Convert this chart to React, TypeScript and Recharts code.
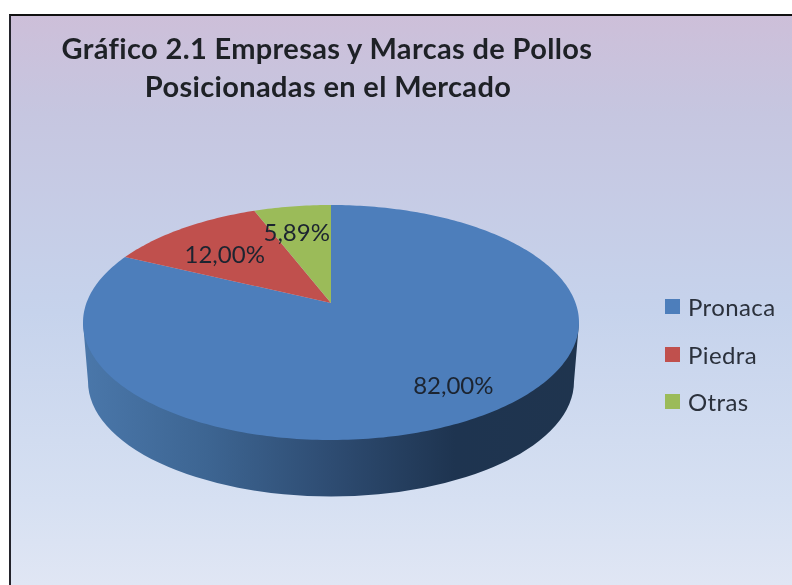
import React from 'react';
import { PieChart, Pie, Legend } from 'recharts';

const categories = ['Pronaca', 'Piedra', 'Otras'];
const shares = [82.0, 12.0, 5.89];
const colors = ['#4d7ebb', '#c0504d', '#9bbb59'];
const titleLines = ['Gráfico 2.1 Empresas y Marcas de Pollos', 'Posicionadas en el Mercado'];

const table = categories.map((name, i) => ({ name, value: shares[i], fill: colors[i] }));

// Perspective of the tilted disc
const W = 792, H = 585;
const CX = 331, CY = 303, RX = 248;
const RY = 117.5, DISC_SHIFT = 19.5; // ellipse centre sits below the projected pie centre
const C = DISC_SHIFT / RY, S = Math.sqrt(1 - C * C);
const DEPTH_CY = 59, BOTTOM_RX = 243, BOTTOM_RY = 115;
const LABEL_RADIUS = [0.75, 0.7, 0.7];
const LABEL_NUDGE = [[13, 0], [1, 5], [-6, -1]];

function project(cx: number, cy: number, rx: number, deg: number, r = 1) {
  const a = (deg * Math.PI) / 180;
  const u = r * Math.cos(a), v = r * Math.sin(a);
  const d = 1 + C * v;
  return { x: cx + (rx * u * S) / d, y: cy + DISC_SHIFT - (RY * (v + C)) / d };
}

function Slice(props: any) {
  const { cx, cy, outerRadius, startAngle, endAngle, fill } = props;
  const n = Math.max(8, Math.ceil(Math.abs(endAngle - startAngle) / 1));
  let d = `M${cx},${cy}`;
  for (let i = 0; i <= n; i++) {
    const p = project(cx, cy, outerRadius, startAngle + ((endAngle - startAngle) * i) / n);
    d += `L${p.x.toFixed(2)},${p.y.toFixed(2)}`;
  }
  d += 'Z';
  const lo = Math.min(startAngle, endAngle), hi = Math.max(startAngle, endAngle);
  const front = lo <= -90 && hi >= -90;
  const ey = cy + DISC_SHIFT;
  return (
    <g>
      {front && (
        <>
          <defs>
            <linearGradient id="wall" gradientUnits="userSpaceOnUse" x1={cx - outerRadius} x2={cx + outerRadius} y1="0" y2="0">
              <stop offset="0" stopColor="#4a77aa" />
              <stop offset="0.25" stopColor="#3d6592" />
              <stop offset="0.5" stopColor="#2e4c72" />
              <stop offset="0.75" stopColor="#1e3450" />
              <stop offset="1" stopColor="#1f344e" />
            </linearGradient>
          </defs>
          <path
            fill="url(#wall)"
            d={`M${cx - outerRadius},${ey}L${cx - BOTTOM_RX},${ey + DEPTH_CY}A${BOTTOM_RX},${BOTTOM_RY} 0 0 0 ${cx + BOTTOM_RX},${ey + DEPTH_CY}L${cx + outerRadius},${ey}Z`}
          />
        </>
      )}
      <path d={d} fill={fill} />
    </g>
  );
}

function SliceLabel(props: any) {
  const { cx, cy, outerRadius, midAngle, index, value } = props;
  const p = project(cx, cy, outerRadius, midAngle, LABEL_RADIUS[index]);
  return (
    <text
      x={p.x + LABEL_NUDGE[index][0]}
      y={p.y + LABEL_NUDGE[index][1]}
      textAnchor="middle"
      dominantBaseline="central"
      fontFamily="Lato"
      fontSize={24}
      fill="#1c2430"
    >
      {value.toFixed(2).replace('.', ',') + '%'}
    </text>
  );
}

function LegendBox(props: any) {
  return (
    <div style={{ fontFamily: 'Lato', fontSize: 24, letterSpacing: 0.4, color: '#2b313c' }}>
      {(props.payload || []).map((e: any) => (
        <div key={e.value} style={{ display: 'flex', alignItems: 'center', height: 47.5 }}>
          <span style={{ display: 'inline-block', width: 15, height: 15, background: e.color, marginRight: 8 }} />
          <span>{e.value}</span>
        </div>
      ))}
    </div>
  );
}

export default function App() {
  return (
    <div style={{ position: 'absolute', left: 0, top: 0, width: W, height: H, background: '#fff', overflow: 'hidden' }}>
      <div
        style={{
          position: 'absolute',
          left: 9,
          top: 14,
          width: W - 9,
          height: H - 14,
          boxSizing: 'border-box',
          borderLeft: '2px solid #23232b',
          borderTop: '2px solid #111',
          background: 'linear-gradient(180deg, #cdbfd9 0%, #c6c6e0 17%, #c6d3ec 52%, #d6e0f2 85%, #e0e6f4 100%)',
        }}
      />
      <div style={{ position: 'absolute', left: 0, top: 0, filter: 'blur(0.5px)' }}>
        <PieChart width={W} height={H} margin={{ top: 0, right: 0, bottom: 0, left: 0 }}>
          <text textAnchor="middle" fontFamily="Lato" fontWeight={700} fontSize={29} letterSpacing={0.35} fill="#1e2126">
            <tspan x={327} y={59}>{titleLines[0]}</tspan>
            <tspan x={328} y={97}>{titleLines[1]}</tspan>
          </text>
          <Pie
            data={table}
            dataKey="value"
            nameKey="name"
            cx={CX}
            cy={CY}
            innerRadius={0}
            outerRadius={RX}
            startAngle={90}
            endAngle={-270}
            stroke="none"
            shape={Slice}
            label={SliceLabel}
            labelLine={false}
            isAnimationActive={false}
          />
          <Legend
            layout="vertical"
            content={LegendBox}
            itemSorter={null}
            wrapperStyle={{ position: 'absolute', left: 665, top: 283, width: 125 }}
          />
        </PieChart>
      </div>
    </div>
  );
}
